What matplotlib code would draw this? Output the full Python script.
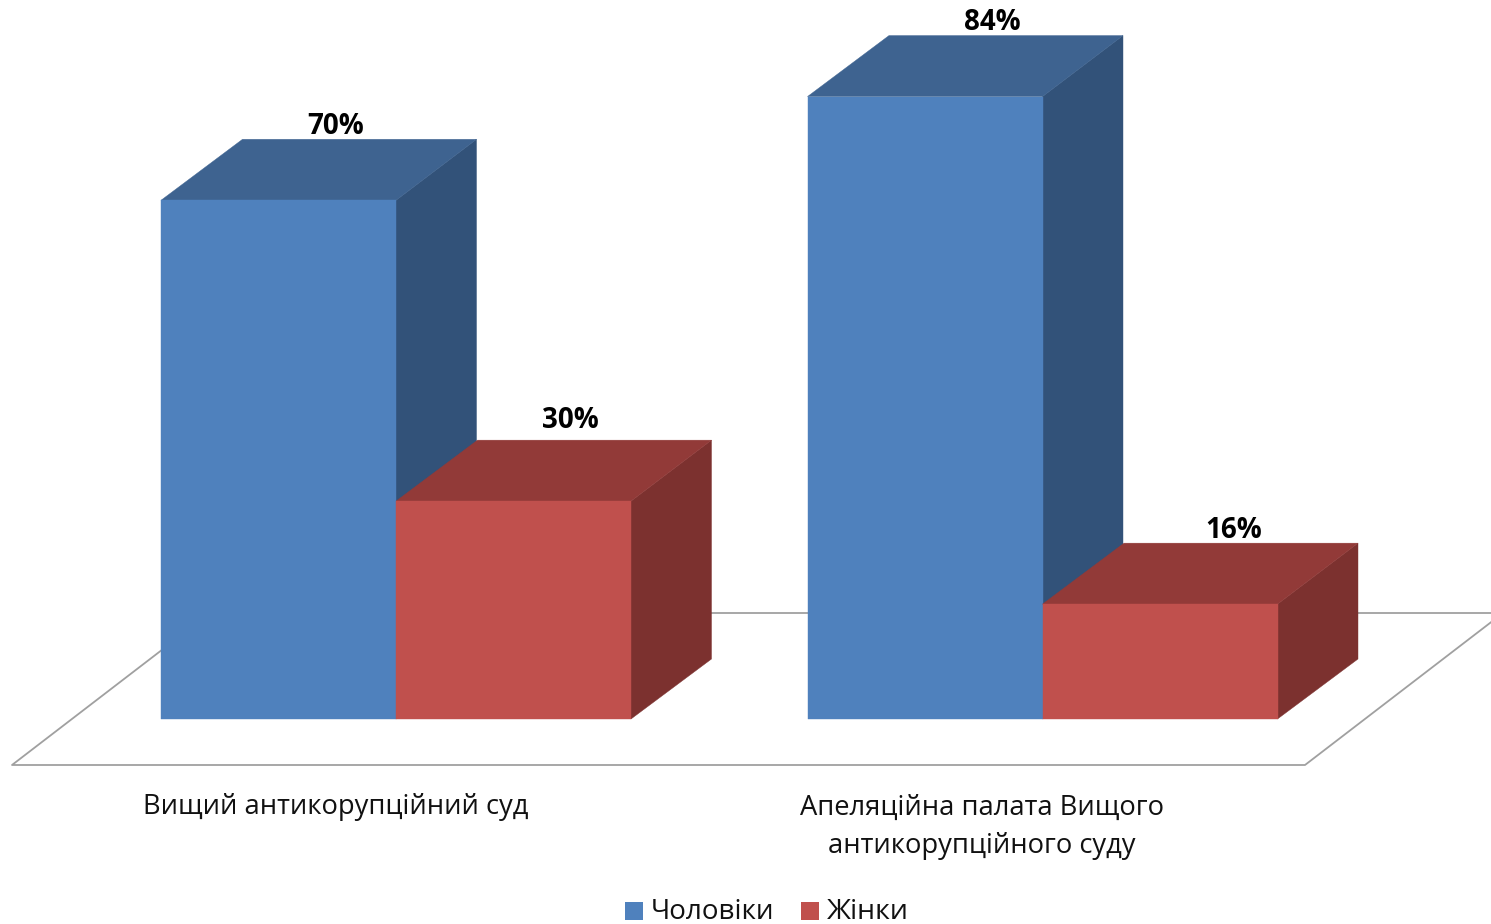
import matplotlib
matplotlib.use("Agg")
import matplotlib.pyplot as plt
from matplotlib.patches import Polygon, Rectangle

# ── DATA ───────────────────────────────────────────────────
categories = ["Вищий антикорупційний суд", "Апеляційна палата Вищого\nантикорупційного суду"]
series_names = ["Чоловіки", "Жінки"]
men = [70, 84]
women = [29.4, 15.5]
men_labels = ["70%", "84%"]
women_labels = ["30%", "16%"]

# ── PALETTE ────────────────────────────────────────────────
BLUE = ("#4F81BD", "#3E6390", "#325279")
RED = ("#C0504D", "#923A38", "#7C312F")
FLOOR = "#A0A0A0"

W, H = 1491, 924
BASE_Y = 719
PX_PER_PCT = 7.41
BAR_W = 235
DX_LEFT, DX, DY = 81.5, 80.5, 61


def bar3d(ax, x, value, colors):
    top = BASE_Y - value * PX_PER_PCT
    right = x + BAR_W
    # side first, then top, then front
    ax.add_patch(Polygon([(right, BASE_Y), (right + DX, BASE_Y - DY + 1), (right + DX, top - DY), (right, top)],
                         fc=colors[2], ec=colors[2], lw=0.3, zorder=3))
    ax.add_patch(Polygon([(x, top), (x + DX_LEFT, top - DY), (right + DX, top - DY), (right, top)],
                         fc=colors[1], ec=colors[1], lw=0.3, zorder=3))
    ax.add_patch(Rectangle((x, top), BAR_W, BASE_Y - top, fc=colors[0], ec=colors[0], lw=0.3, zorder=3))


plt.rcParams["font.family"] = ["Open Sans", "DejaVu Sans"]
fig = plt.figure(figsize=(W / 100, H / 100), dpi=100)
ax = fig.add_axes([0, 0, 1, 1])
ax.set_xlim(0, W)
ax.set_ylim(H, 0)
ax.axis("off")

# floor outline
ax.plot([210, 12, 1305, 1503], [613, 765, 765, 613], color=FLOOR, lw=1.3, zorder=1)
ax.plot([210, 1503], [613, 613], color=FLOOR, lw=1.3, zorder=1)

group_x = [161, 807.5]
cat_x = [336, 981.5]
cat_y = [807, 827]
men_label_pos = [(335.5, 126), (992.5, 23)]
women_label_pos = [(570, 421), (1233.5, 530)]
for i in range(2):
    x = group_x[i]
    bar3d(ax, x, men[i], BLUE)
    bar3d(ax, x + BAR_W, women[i], RED)
    ax.text(*men_label_pos[i], men_labels[i], ha="center", va="center",
            fontsize=20, fontweight="bold", color="black", zorder=5)
    ax.text(*women_label_pos[i], women_labels[i], ha="center", va="center",
            fontsize=20, fontweight="bold", color="black", zorder=5)
    ax.text(cat_x[i], cat_y[i], categories[i], ha="center", va="center",
            fontsize=19.7, color="#111111", linespacing=1.5, zorder=5)

# legend, cut by the bottom edge like the source
ax.add_patch(Rectangle((625, 902), 18, 18, fc=BLUE[0], ec="none"))
ax.text(651, 912, series_names[0], ha="left", va="center", fontsize=20, color="#111111")
ax.add_patch(Rectangle((801, 902), 18, 18, fc=RED[0], ec="none"))
ax.text(827, 912, series_names[1], ha="left", va="center", fontsize=20.5, color="#111111")

fig.savefig("out.png", dpi=100)
